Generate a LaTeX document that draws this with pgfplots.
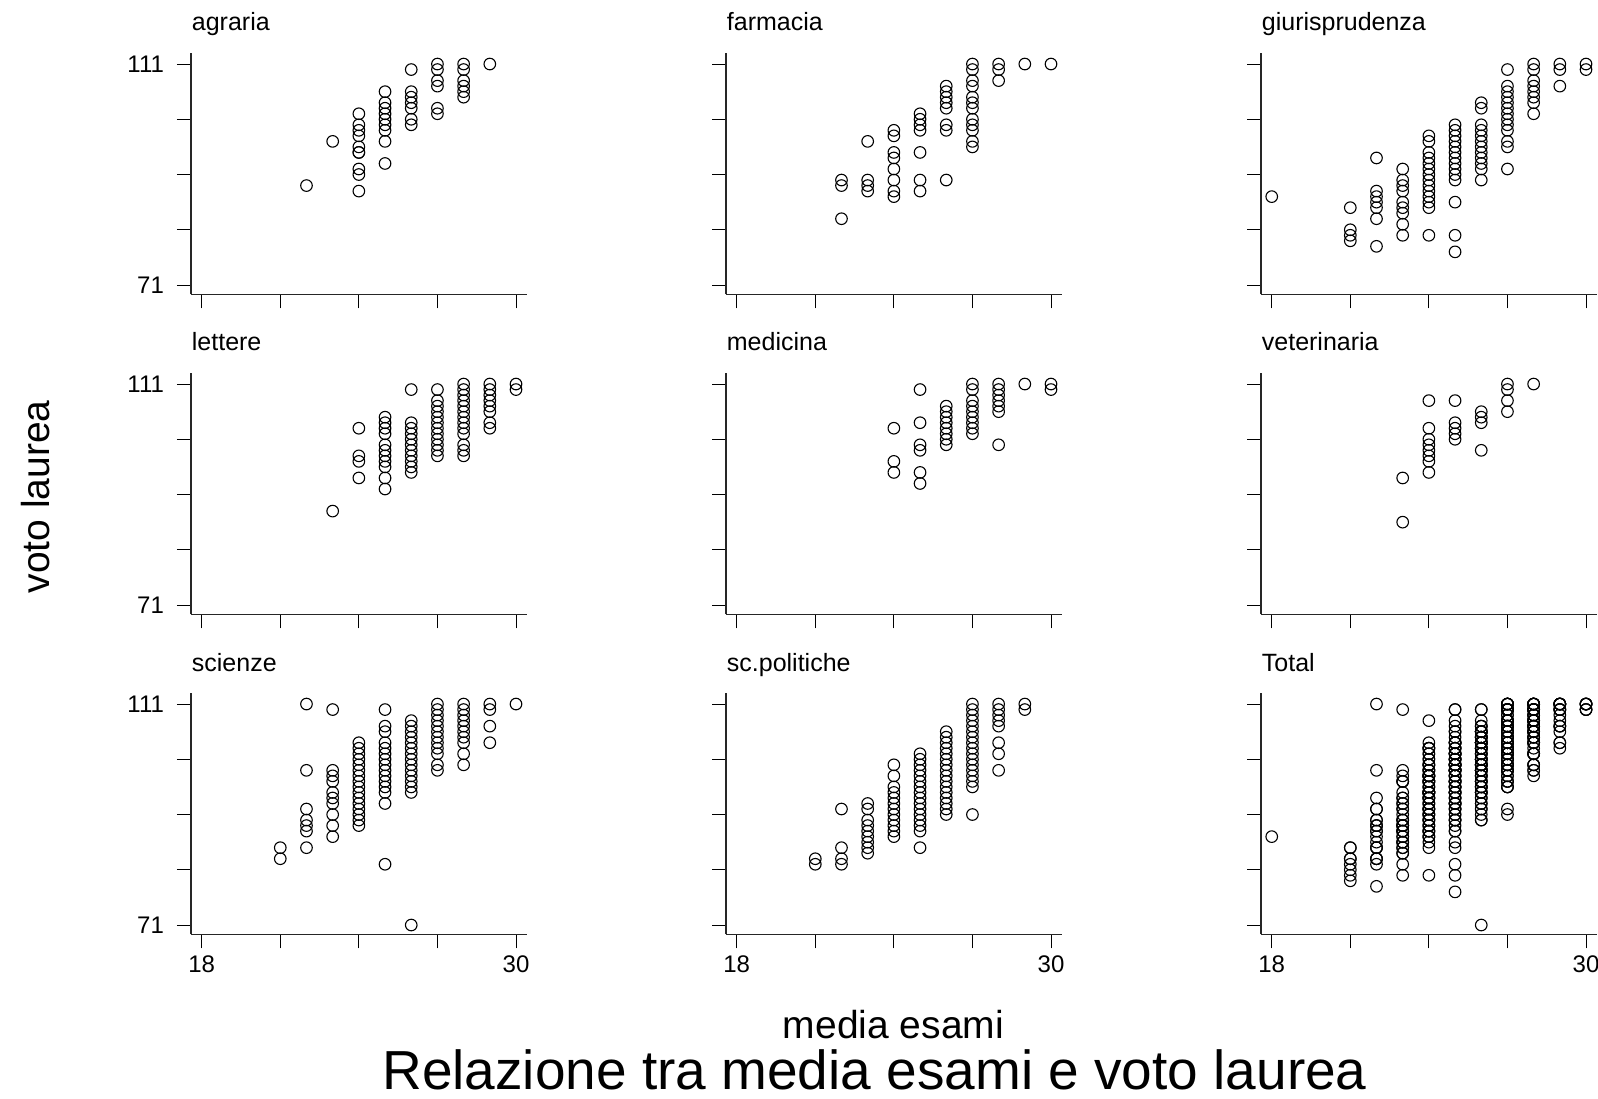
\documentclass[border=0pt]{standalone}
\usepackage{pgfplots}
\usepackage{pgfplotstable}
\pgfplotsset{compat=1.18}
\usepackage{fontspec}
\setmainfont{Liberation Sans}

\pgfplotstableread[row sep=\\]{x y\\
22 89\\ 23 97\\
24 102\\ 24 100\\ 24 99\\ 24 98\\ 24 96\\ 24 95\\ 24 95\\ 24 92\\ 24 91\\ 24 88\\
25 106\\ 25 104\\ 25 103\\ 25 102\\ 25 101\\ 25 100\\ 25 99\\ 25 97\\ 25 93\\
26 110\\ 26 106\\ 26 105\\ 26 104\\ 26 103\\ 26 101\\ 26 100\\
27 111\\ 27 110\\ 27 108\\ 27 107\\ 27 103\\ 27 102\\
28 111\\ 28 110\\ 28 108\\ 28 107\\ 28 106\\ 28 105\\
29 111\\
}\agraria

\pgfplotstableread[row sep=\\]{x y\\
22 90\\ 22 89\\ 22 83\\
23 97\\ 23 90\\ 23 89\\ 23 88\\
24 99\\ 24 98\\ 24 95\\ 24 94\\ 24 92\\ 24 90\\ 24 88\\ 24 87\\
25 102\\ 25 101\\ 25 100\\ 25 99\\ 25 95\\ 25 90\\ 25 88\\
26 107\\ 26 106\\ 26 105\\ 26 104\\ 26 103\\ 26 100\\ 26 99\\ 26 90\\
27 111\\ 27 110\\ 27 108\\ 27 107\\ 27 105\\ 27 104\\ 27 103\\ 27 101\\ 27 100\\ 27 99\\ 27 97\\ 27 96\\
28 111\\ 28 110\\ 28 108\\
29 111\\ 30 111\\
}\farmacia

\pgfplotstableread[row sep=\\]{x y\\
18 87\\
21 85\\ 21 81\\ 21 80\\ 21 79\\
22 94\\ 22 88\\ 22 87\\ 22 86\\ 22 85\\ 22 83\\ 22 78\\
23 92\\ 23 90\\ 23 89\\ 23 88\\ 23 86\\ 23 85\\ 23 84\\ 23 82\\ 23 80\\
24 98\\ 24 97\\ 24 95\\ 24 94\\ 24 93\\ 24 92\\ 24 91\\ 24 90\\ 24 89\\ 24 88\\ 24 87\\ 24 86\\ 24 85\\ 24 80\\
25 100\\ 25 99\\ 25 98\\ 25 97\\ 25 96\\ 25 95\\ 25 94\\ 25 93\\ 25 92\\ 25 91\\ 25 90\\ 25 86\\ 25 80\\ 25 77\\
26 104\\ 26 103\\ 26 100\\ 26 99\\ 26 98\\ 26 97\\ 26 96\\ 26 95\\ 26 94\\ 26 93\\ 26 92\\ 26 90\\
27 110\\ 27 107\\ 27 106\\ 27 105\\ 27 104\\ 27 103\\ 27 102\\ 27 101\\ 27 100\\ 27 99\\ 27 97\\ 27 96\\ 27 92\\
28 111\\ 28 110\\ 28 108\\ 28 107\\ 28 106\\ 28 105\\ 28 104\\ 28 102\\
29 111\\ 29 110\\ 29 107\\
30 111\\ 30 110\\
}\giurisprudenza

\pgfplotstableread[row sep=\\]{x y\\
23 88\\
24 103\\ 24 98\\ 24 97\\ 24 94\\
25 105\\ 25 104\\ 25 103\\ 25 102\\ 25 100\\ 25 99\\ 25 98\\ 25 97\\ 25 96\\ 25 94\\ 25 92\\
26 110\\ 26 104\\ 26 103\\ 26 102\\ 26 101\\ 26 100\\ 26 99\\ 26 98\\ 26 97\\ 26 96\\ 26 95\\
27 110\\ 27 108\\ 27 107\\ 27 106\\ 27 105\\ 27 104\\ 27 103\\ 27 102\\ 27 101\\ 27 100\\ 27 99\\ 27 98\\
28 111\\ 28 110\\ 28 109\\ 28 108\\ 28 107\\ 28 106\\ 28 105\\ 28 104\\ 28 103\\ 28 102\\ 28 100\\ 28 99\\ 28 98\\
29 111\\ 29 110\\ 29 109\\ 29 108\\ 29 107\\ 29 106\\ 29 104\\ 29 103\\
30 111\\ 30 110\\
}\lettere

\pgfplotstableread[row sep=\\]{x y\\
24 103\\ 24 97\\ 24 95\\
25 110\\ 25 104\\ 25 100\\ 25 99\\ 25 95\\ 25 93\\
26 107\\ 26 106\\ 26 105\\ 26 104\\ 26 103\\ 26 102\\ 26 101\\ 26 100\\
27 111\\ 27 110\\ 27 108\\ 27 107\\ 27 106\\ 27 105\\ 27 104\\ 27 103\\ 27 102\\
28 111\\ 28 110\\ 28 109\\ 28 108\\ 28 107\\ 28 106\\ 28 100\\
29 111\\
30 111\\ 30 110\\
}\medicina

\pgfplotstableread[row sep=\\]{x y\\
23 94\\ 23 86\\
24 108\\ 24 103\\ 24 101\\ 24 100\\ 24 99\\ 24 98\\ 24 97\\ 24 95\\
25 108\\ 25 104\\ 25 103\\ 25 102\\ 25 101\\
26 106\\ 26 105\\ 26 104\\ 26 99\\
27 111\\ 27 110\\ 27 108\\ 27 106\\
28 111\\
}\veterinaria

\pgfplotstableread[row sep=\\]{x y\\
21 85\\ 21 83\\
22 111\\ 22 99\\ 22 92\\ 22 90\\ 22 89\\ 22 88\\ 22 85\\
23 110\\ 23 99\\ 23 98\\ 23 97\\ 23 95\\ 23 94\\ 23 93\\ 23 91\\ 23 89\\ 23 87\\
24 104\\ 24 103\\ 24 102\\ 24 101\\ 24 100\\ 24 99\\ 24 98\\ 24 97\\ 24 96\\ 24 95\\ 24 94\\ 24 93\\ 24 92\\ 24 91\\ 24 90\\ 24 89\\
25 110\\ 25 107\\ 25 106\\ 25 104\\ 25 103\\ 25 102\\ 25 101\\ 25 100\\ 25 99\\ 25 98\\ 25 97\\ 25 96\\ 25 95\\ 25 93\\ 25 82\\
26 108\\ 26 107\\ 26 106\\ 26 105\\ 26 104\\ 26 103\\ 26 102\\ 26 101\\ 26 100\\ 26 99\\ 26 98\\ 26 97\\ 26 96\\ 26 95\\ 26 71\\
27 111\\ 27 110\\ 27 109\\ 27 108\\ 27 107\\ 27 106\\ 27 105\\ 27 104\\ 27 103\\ 27 102\\ 27 100\\ 27 99\\
28 111\\ 28 110\\ 28 109\\ 28 108\\ 28 107\\ 28 106\\ 28 105\\ 28 104\\ 28 102\\ 28 100\\
29 111\\ 29 110\\ 29 107\\ 29 104\\
30 111\\
}\scienze

\pgfplotstableread[row sep=\\]{x y\\
21 83\\ 21 82\\
22 92\\ 22 85\\ 22 83\\ 22 82\\
23 93\\ 23 92\\ 23 90\\ 23 89\\ 23 88\\ 23 87\\ 23 86\\ 23 85\\ 23 84\\
24 100\\ 24 98\\ 24 96\\ 24 95\\ 24 94\\ 24 93\\ 24 92\\ 24 91\\ 24 90\\ 24 89\\ 24 88\\ 24 87\\
25 102\\ 25 101\\ 25 100\\ 25 99\\ 25 98\\ 25 97\\ 25 96\\ 25 95\\ 25 94\\ 25 93\\ 25 92\\ 25 91\\ 25 90\\ 25 89\\ 25 88\\ 25 85\\
26 106\\ 26 105\\ 26 104\\ 26 103\\ 26 102\\ 26 101\\ 26 100\\ 26 99\\ 26 98\\ 26 97\\ 26 96\\ 26 95\\ 26 94\\ 26 93\\ 26 92\\ 26 91\\
27 111\\ 27 110\\ 27 109\\ 27 108\\ 27 107\\ 27 106\\ 27 105\\ 27 104\\ 27 103\\ 27 102\\ 27 101\\ 27 100\\ 27 99\\ 27 98\\ 27 97\\ 27 96\\ 27 91\\
28 111\\ 28 110\\ 28 109\\ 28 108\\ 28 107\\ 28 104\\ 28 102\\ 28 99\\
29 111\\ 29 110\\
}\scpolitiche

\pgfplotsset{
  pt/.style={only marks, mark=o, mark size=2.9pt, line width=0.55pt, black, mark options={solid, fill=none, draw=black}},
  panel/.style={
    scale only axis, width=168pt, height=120.65pt,
    xmin=17.591, xmax=30.42, ymin=69.32, ymax=113.0,
    axis x line*=bottom, axis y line*=left,
    tick align=outside, tick pos=left, major tick length=7pt,
    xtick={18,21,24,27,30}, ytick={71,81,91,101,111},
    xticklabels={}, yticklabels={},
    clip=false, anchor=south west,
    axis line style={black!85, line width=0.7pt},
    every tick/.style={black, line width=0.5pt},
    tick label style={font=\fontsize{12}{14}\selectfont},
    /pgf/number format/assume math mode=true,
    yticklabel style={xshift=-3pt},
    xticklabel style={yshift=0pt},
  },
  ylab/.style={yticklabels={71,{},{},{},111}},
  xlab/.style={xticklabels={18,{},{},{},30}},
}

\begin{document}
\begin{tikzpicture}
\path[use as bounding box] (0,0) rectangle (799pt,549pt);

% row 1
\begin{axis}[panel, ylab, at={(95.5pt,401.85pt)}]
\addplot[pt] table {\agraria};
\end{axis}
\begin{axis}[panel, at={(363pt,401.85pt)}]
\addplot[pt] table {\farmacia};
\end{axis}
\begin{axis}[panel, at={(630.5pt,401.85pt)}]
\addplot[pt] table {\giurisprudenza};
\end{axis}

% row 2
\begin{axis}[panel, ylab, at={(95.5pt,241.85pt)}]
\addplot[pt] table {\lettere};
\end{axis}
\begin{axis}[panel, at={(363pt,241.85pt)}]
\addplot[pt] table {\medicina};
\end{axis}
\begin{axis}[panel, at={(630.5pt,241.85pt)}]
\addplot[pt] table {\veterinaria};
\end{axis}

% row 3
\begin{axis}[panel, ylab, xlab, at={(95.5pt,81.85pt)}]
\addplot[pt] table {\scienze};
\end{axis}
\begin{axis}[panel, xlab, at={(363pt,81.85pt)}]
\addplot[pt] table {\scpolitiche};
\end{axis}
\begin{axis}[panel, xlab, at={(630.5pt,81.85pt)}]
\addplot[pt] table {\agraria};
\addplot[pt] table {\farmacia};
\addplot[pt] table {\giurisprudenza};
\addplot[pt] table {\lettere};
\addplot[pt] table {\medicina};
\addplot[pt] table {\veterinaria};
\addplot[pt] table {\scienze};
\addplot[pt] table {\scpolitiche};
\end{axis}

% panel titles
\begin{scope}[every node/.style={anchor=base west, inner sep=0pt, font=\fontsize{12.5}{14}\selectfont}]
\node at (95.75pt,533.5pt) {agraria};
\node at (363.25pt,533.5pt) {farmacia};
\node at (630.75pt,533.5pt) {giurisprudenza};
\node at (95.75pt,373.5pt) {lettere};
\node at (363.25pt,373.5pt) {medicina};
\node at (630.75pt,373.5pt) {veterinaria};
\node at (95.75pt,213.5pt) {scienze};
\node at (363.25pt,213.5pt) {sc.politiche};
\node at (630.75pt,213.5pt) {Total};
\end{scope}

\node[anchor=base, inner sep=0pt, font=\fontsize{19.5}{22}\selectfont] at (446.75pt,30pt) {media esami};
\node[anchor=base, inner sep=0pt, font=\fontsize{27.5}{30}\selectfont] at (437.25pt,4.5pt) {Relazione tra media esami e voto laurea};
\node[rotate=90, anchor=center, inner sep=0pt, font=\fontsize{19.5}{22}\selectfont] at (18pt,300.5pt) {voto laurea};
\end{tikzpicture}
\end{document}
